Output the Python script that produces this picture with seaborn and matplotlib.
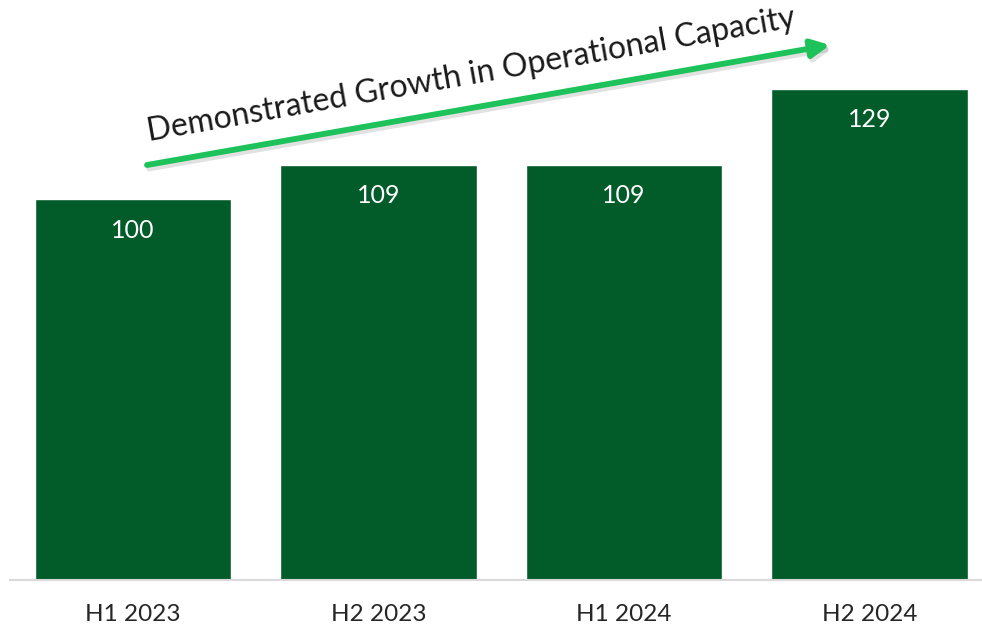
import matplotlib
matplotlib.use("Agg")
import matplotlib.pyplot as plt
import matplotlib.patheffects as pe
import seaborn as sns
import pandas as pd

periods = ["H1 2023", "H2 2023", "H1 2024", "H2 2024"]
capacity = [100, 109, 109, 129]
title_text = "Demonstrated Growth in Operational Capacity"

sns.set_theme(style="white")
plt.rcParams["font.family"] = ["Lato", "DejaVu Sans"]

df = pd.DataFrame({"period": periods, "capacity": capacity})

fig = plt.figure(figsize=(9.82, 6.27), dpi=100)
ax = fig.add_axes([10 / 982, 47 / 627, 972 / 982, 571.5 / 627])

bar_color = "#025C2A"
sns.barplot(data=df, x="period", y="capacity", color=bar_color, saturation=1,
            width=0.8, ax=ax)

ax.set_xlim(-0.5, 3.457)
ax.set_ylim(0, 150)
ax.set_xlabel("")
ax.set_ylabel("")
ax.set_yticks([])
for s in ["top", "right", "left"]:
    ax.spines[s].set_visible(False)
ax.spines["bottom"].set_color("#D9D9D9")
ax.spines["bottom"].set_linewidth(1.5)
ax.tick_params(axis="x", length=0, pad=17, labelsize=17.5, labelcolor="#262626")

for i, v in enumerate(capacity):
    ax.text(i, v - 8.2, f"{v}", ha="center", va="center", color="white",
            fontsize=18)

# growth arrow
ax.annotate("", xy=(830 / 982, 1 - 45 / 627), xytext=(147 / 982, 1 - 165 / 627),
            xycoords="figure fraction", textcoords="figure fraction",
            arrowprops=dict(arrowstyle="-|>,head_length=0.9,head_width=0.45",
                            color="#1DC25A", lw=4.2, shrinkA=0, shrinkB=0,
                            path_effects=[pe.SimpleLineShadow(offset=(1.5, -2.5), shadow_color="#AAAAAA", alpha=0.35),
                                          pe.Normal()]))

fig.text(471 / 982, 1 - 75 / 627, title_text, rotation=10, rotation_mode="anchor",
         ha="center", va="center", fontsize=23, color="#1A1A1A")

fig.savefig("out.png", dpi=100)
